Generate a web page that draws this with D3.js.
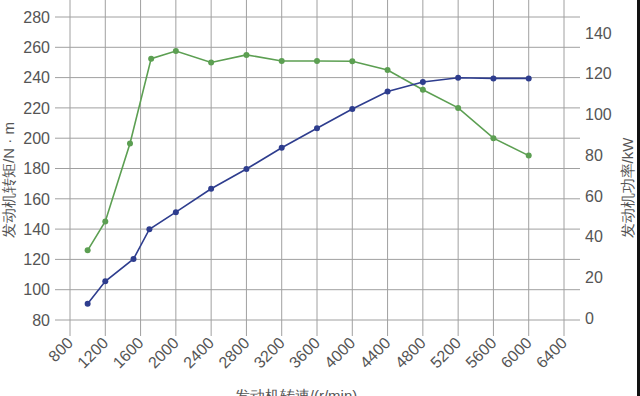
<!DOCTYPE html>
<html>
<head>
<meta charset="utf-8">
<script src="https://cdn.jsdelivr.net/npm/d3@7"></script>
<style>
  html, body { margin: 0; padding: 0; background: #fff; }
  svg { display: block; }
  text { font-family: "Liberation Sans", Arial, sans-serif; fill: #555; }
</style>
</head>
<body>
<svg id="chart" width="640" height="396"></svg>
<script>
// 发动机外特性曲线: 转矩 (左轴) 和 功率 (右轴)
const rpmTicks = [800, 1200, 1600, 2000, 2400, 2800, 3200, 3600, 4000, 4400, 4800, 5200, 5600, 6000, 6400];
const torqueTicks = [80, 100, 120, 140, 160, 180, 200, 220, 240, 260, 280];
const powerTicks = [0, 20, 40, 60, 80, 100, 120, 140];

const torqueRpm = [1000, 1200, 1480, 1720, 2000, 2400, 2800, 3200, 3600, 4000, 4400, 4800, 5200, 5600, 6000];
const torqueVals = [126, 145, 196.5, 252.5, 257.5, 250, 255, 251, 251, 250.8, 245, 232, 220, 200, 188.5];

const powerRpm = [1000, 1200, 1520, 1700, 2000, 2400, 2800, 3200, 3600, 4000, 4400, 4800, 5200, 5600, 6000];
const powerVals = [7, 18, 29, 43.6, 52, 63.5, 73.2, 83.6, 93.2, 102.7, 111.3, 115.9, 118, 117.7, 117.7];

const GREEN = "#5c9f52";
const BLUE = "#2e3d8e";
const GRID = "#a0a0a0";

const svg = d3.select("#chart");

const x = d3.scaleLinear().domain([800, 6400]).range([70, 564]);
const yT = d3.scaleLinear().domain([80, 280]).range([320, 17]);
const yP = d3.scaleLinear().domain([0, 140]).range([318, 33]);

// grille horizontale (ticks du couple)
svg.append("g")
  .selectAll("line")
  .data(torqueTicks)
  .join("line")
  .attr("x1", 55)
  .attr("x2", 580)
  .attr("y1", (d) => yT(d))
  .attr("y2", (d) => yT(d))
  .attr("stroke", GRID)
  .attr("stroke-width", 1);

// grille verticale, un peu plus longue que l'axe
svg.append("g")
  .selectAll("line")
  .data(rpmTicks)
  .join("line")
  .attr("x1", (d) => x(d))
  .attr("x2", (d) => x(d))
  .attr("y1", 0)
  .attr("y2", 336)
  .attr("stroke", GRID)
  .attr("stroke-width", 1);

// labels gauche
svg.append("g")
  .selectAll("text")
  .data(torqueTicks)
  .join("text")
  .attr("x", 50)
  .attr("y", (d) => yT(d))
  .attr("dy", "0.36em")
  .attr("text-anchor", "end")
  .attr("font-size", 16)
  .text((d) => d);

// labels droite
svg.append("g")
  .selectAll("text")
  .data(powerTicks)
  .join("text")
  .attr("x", 585)
  .attr("y", (d) => yP(d))
  .attr("dy", "0.36em")
  .attr("text-anchor", "start")
  .attr("font-size", 16)
  .text((d) => d);

// labels x en diagonale
svg.append("g")
  .selectAll("text")
  .data(rpmTicks)
  .join("text")
  .attr("transform", (d) => `translate(${x(d) + 4},${344}) rotate(-45)`)
  .attr("text-anchor", "end")
  .attr("font-size", 16)
  .text((d) => d);

// titres des axes
svg.append("text")
  .attr("transform", "translate(14,180) rotate(-90)")
  .attr("text-anchor", "middle")
  .attr("font-size", 15)
  .text("发动机转矩/N · m");

svg.append("text")
  .attr("transform", "translate(633,188) rotate(-90)")
  .attr("text-anchor", "middle")
  .attr("font-size", 15)
  .text("发动机功率/kW");

svg.append("text")
  .attr("x", 296)
  .attr("y", 401)
  .attr("text-anchor", "middle")
  .attr("font-size", 15)
  .text("发动机转速/(r/min)");

function drawSeries(xs, ys, yScale, color) {
  const pts = xs.map((r, i) => [r, ys[i]]);
  const line = d3.line().x((d) => x(d[0])).y((d) => yScale(d[1]));
  svg.append("path")
    .datum(pts)
    .attr("fill", "none")
    .attr("stroke", color)
    .attr("stroke-width", 1.6)
    .attr("d", line);
  svg.append("g")
    .selectAll("circle")
    .data(pts)
    .join("circle")
    .attr("cx", (d) => x(d[0]))
    .attr("cy", (d) => yScale(d[1]))
    .attr("r", 3)
    .attr("fill", color);
}

drawSeries(torqueRpm, torqueVals, yT, GREEN);
drawSeries(powerRpm, powerVals, yP, BLUE);

// bord noir a droite
svg.append("rect")
  .attr("x", 637)
  .attr("y", 0)
  .attr("width", 3)
  .attr("height", 396)
  .attr("fill", "#111");
</script>
</body>
</html>
